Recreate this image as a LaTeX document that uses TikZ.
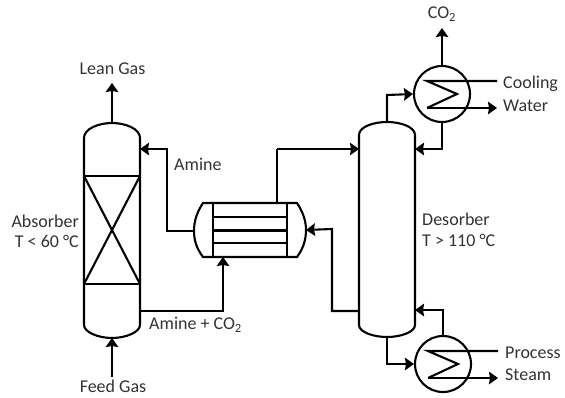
\documentclass[tikz,border=0pt]{standalone}
\usepackage{fontspec}
\setmainfont{Carlito}
\usetikzlibrary{positioning,calc,arrows.meta}
\tikzset{>={Stealth[length=9pt,width=12.5pt,inset=1pt]}}
\tikzset{pipe/.style={line width=2.1pt,line join=miter},
  flow/.style={pipe,->},
  lbl/.style={font=\fontsize{18}{20}\selectfont,text=black!80,inner sep=0pt},
  hx/.style={circle,draw,line width=2.1pt,minimum size=56pt,inner sep=0pt}}

\begin{document}
\begin{tikzpicture}[x=1pt,y=-1pt]
\useasboundingbox (0,0) rectangle (565,397);
% absorber
\draw[pipe] (84,138) coordinate (al) .. controls (84,129) and (98,123) .. (112,123) coordinate (atop)
  .. controls (126,123) and (140,129) .. (140,138) coordinate (ar)
  -- (140,325) .. controls (140,332) and (126,338) .. (112,338) coordinate (abot)
  .. controls (98,338) and (84,332) .. (84,325) -- cycle;
\draw[pipe] (84,176) coordinate (p1) -- (140,176) coordinate (p2);
\draw[pipe] (84,284) coordinate (p3) -- (140,284) coordinate (p4);
\draw[pipe] (p1) -- (p4);
\draw[pipe] (p2) -- (p3);
% desorber
\draw[pipe] (359,135) .. controls (359,127) and (373,122) .. (387,122) coordinate (dtop)
  .. controls (401,122) and (415,127) .. (415,135)
  -- (415,325) .. controls (415,332) and (401,337) .. (387,337) coordinate (dbot)
  .. controls (373,337) and (359,332) .. (359,325) -- cycle;
% exchanger
\draw[pipe] (203,203) .. controls (197,212) and (194,221) .. (194,231) coordinate (hl)
  .. controls (194,241) and (197,249) .. (203,257) -- (297,257)
  .. controls (303,249) and (306,240) .. (306,230) coordinate (hr)
  .. controls (306,221) and (303,212) .. (297,203) -- cycle;
\draw[pipe] (213,203) -- (213,257);
\draw[pipe] (287,203) -- (287,257);
\foreach \y in {217,230.5,243}
  \draw[pipe] (213,\y) -- (287,\y);
% condenser and reboiler
\node[hx] (cooler) at (442,94) {};
\node[hx] (reboiler) at (443,364) {};
\draw[pipe] (497,81) coordinate (cw) -- (427,81) -- (457,94) -- (427,108);
\draw[flow] (427,108) -- (497,108);
\draw[pipe] (498,351) coordinate (ps) -- (428,351) -- (458,364) -- (428,378);
\draw[flow] (428,378) -- (498,378);
% labels
\node[lbl] (lean) at (112.5,69) {Lean Gas};
\node[lbl] (feed) at (113,386) {Feed Gas};
\node[lbl,anchor=west] (amine) at (174,164) {Amine};
\node[lbl,anchor=west] (rich) at (149,325) {Amine + CO\textsubscript{2}};
\node[lbl,anchor=east] (absname) at (79,221) {Absorber};
\node[lbl,anchor=east] (abstemp) at (79,241) {T < 60 °C};
\node[lbl,anchor=west] (desname) at (422,219) {Desorber};
\node[lbl,anchor=west] (destemp) at (422,240) {T > 110 °C};
\node[lbl] (co2) at (442,14) {CO\textsubscript{2}};
\node[lbl,anchor=west] (cool) at (503,84) {Cooling};
\node[lbl,anchor=west] (water) at (503,106) {Water};
\node[lbl,anchor=west] (proc) at (505,353) {Process};
\node[lbl,anchor=west] (steam) at (505,375) {Steam};
% streams
\draw[flow] (atop) -- (112,83);
\draw[flow] (112,377) -- (abot);
\draw[flow] (hl) -- (167,231) -- (167,149) -- (140,149);
\draw[flow] (140,311) -- (223,311) -- (223,257);
\draw[pipe] (277,203) -- (277,149);
\draw[flow] (277,149) -- (359,149);
\draw[flow] (359,311) -- (332,311) -- (332,229) -- (hr);
\draw[flow] (cooler.north) -- (442,28);
\draw[flow] (dtop) -- (387,95) -- (cooler.west);
\draw[flow] (cooler.south) -- (442,149) -- (415,149);
\draw[flow] (dbot) -- (387,364) -- (reboiler.west);
\draw[flow] (reboiler.north) -- (443,310) -- (415,310);
\end{tikzpicture}
\end{document}
